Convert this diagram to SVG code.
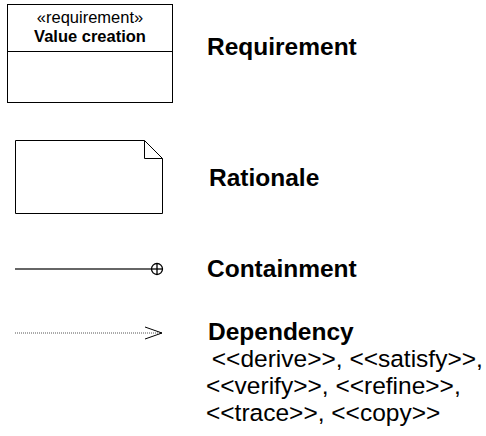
<svg xmlns="http://www.w3.org/2000/svg" width="486" height="436" viewBox="0 0 486 436">
<style>
.shape{fill:#fff;stroke:#000;stroke-width:1}
.lbl{font-family:"Liberation Sans",Arial,sans-serif;font-size:24.5px;fill:#000}
.b{font-weight:bold}
.small{font-family:"Liberation Sans",Arial,sans-serif;font-size:16.5px;fill:#000}
</style>
<rect width="486" height="436" fill="#fff"/>
<g id="requirement">
<rect class="shape" x="7.5" y="4.5" width="165" height="98" stroke-width="1.2"/>
<line x1="7.5" y1="51.5" x2="172.5" y2="51.5" stroke="#000"/>
<text class="small" x="90" y="23" text-anchor="middle">«requirement»</text>
<text class="small b" x="90" y="42" text-anchor="middle">Value creation</text>
</g>
<g id="rationale">
<path class="shape" d="M15.5 140.5 H144.5 L162.5 158.5 V213.5 H15.5 Z"/>
<path d="M144.5 140.5 V158.5 H162.5" fill="none" stroke="#000"/>
</g>
<g id="connectors">
<g id="containment">
<line x1="15" y1="269" x2="152" y2="269" stroke="#333" stroke-width="1.3"/>
<circle cx="157" cy="269" r="5.5" fill="#fff" stroke="#000" stroke-width="1.3"/>
<line x1="151.5" y1="269" x2="162.5" y2="269" stroke="#000" stroke-width="1.3"/>
<line x1="157" y1="263.5" x2="157" y2="274.5" stroke="#000" stroke-width="1.3"/>
</g>
<g id="dependency">
<line x1="15" y1="333" x2="162" y2="333" stroke="#555" stroke-dasharray="1,1"/>
<polyline points="145,327 162,333 145,339" fill="none" stroke="#000"/>
</g>
</g>
<g id="legend-text">
<text class="lbl b" x="207" y="55">Requirement</text>
<text class="lbl b" x="209" y="186">Rationale</text>
<text class="lbl b" x="207" y="277">Containment</text>
<text class="lbl b" x="208" y="340">Dependency</text>
<text class="lbl" x="205" y="367" xml:space="preserve"> &lt;&lt;derive&gt;&gt;, &lt;&lt;satisfy&gt;&gt;,</text>
<text class="lbl" x="206" y="394">&lt;&lt;verify&gt;&gt;, &lt;&lt;refine&gt;&gt;,</text>
<text class="lbl" x="206" y="421">&lt;&lt;trace&gt;&gt;, &lt;&lt;copy&gt;&gt;</text>
</g>
</svg>
